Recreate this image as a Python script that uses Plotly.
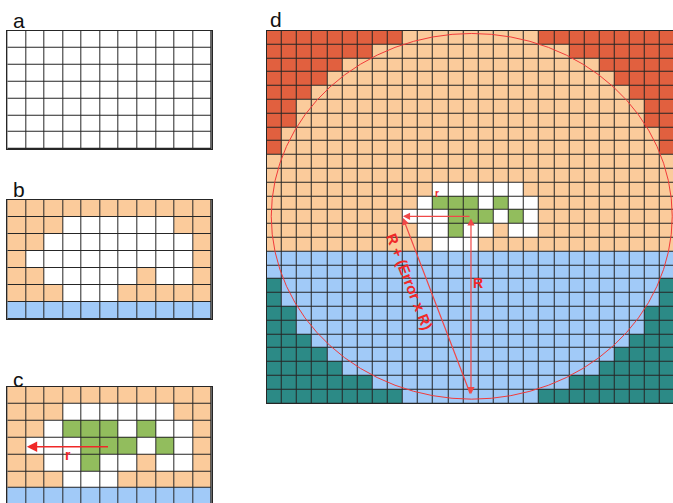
import plotly.graph_objects as go

# ---------------- data ----------------
# cell codes: W white, O light orange, G green, B light blue, R red-orange, T teal
grid_a = ["WWWWWWWWWWW"] * 7

grid_b = [
    "OOOOOOOOOOO",
    "OOOWWWWWWOO",
    "OOWWWWWWWWO",
    "OWWWWWWWWWO",
    "OOWWWWWOWWO",
    "OOOWWWOOOOO",
    "BBBBBBBBBBB",
]

grid_c = [
    "OOOOOOOOOOO",
    "OOOWWWWWWOO",
    "OOWGGGWGWWO",
    "OWWWGGGWGWO",
    "OOWWGWWOWWO",
    "OOOWWWOOOOO",
    "BBBBBBBBBBB",
]

grid_d = [
    "RRRRRRRRROOOOOOOOORRRRRRRRR",
    "RRRRRRROOOOOOOOOOOOORRRRRRR",
    "RRRRROOOOOOOOOOOOOOOOORRRRR",
    "RRRROOOOOOOOOOOOOOOOOOORRRR",
    "RRROOOOOOOOOOOOOOOOOOOOORRR",
    "RROOOOOOOOOOOOOOOOOOOOOOORR",
    "RROOOOOOOOOOOOOOOOOOOOOOORR",
    "ROOOOOOOOOOOOOOOOOOOOOOOOOR",
    "ROOOOOOOOOOOOOOOOOOOOOOOOOR",
    "OOOOOOOOOOOOOOOOOOOOOOOOOOO",
    "OOOOOOOOOOOOOOOOOOOOOOOOOOO",
    "OOOOOOOOOOOWWWWWWOOOOOOOOOO",
    "OOOOOOOOOOWGGGWGWWOOOOOOOOO",
    "OOOOOOOOOWWWGGGWGWOOOOOOOOO",
    "OOOOOOOOOOWWGWWOWWOOOOOOOOO",
    "OOOOOOOOOOOWWWOOOOOOOOOOOOO",
    "BBBBBBBBBBBBBBBBBBBBBBBBBBB",
    "BBBBBBBBBBBBBBBBBBBBBBBBBBB",
    "TBBBBBBBBBBBBBBBBBBBBBBBBBT",
    "TBBBBBBBBBBBBBBBBBBBBBBBBBT",
    "TTBBBBBBBBBBBBBBBBBBBBBBBTT",
    "TTBBBBBBBBBBBBBBBBBBBBBBBTT",
    "TTTBBBBBBBBBBBBBBBBBBBBBTTT",
    "TTTTBBBBBBBBBBBBBBBBBBBTTTT",
    "TTTTTBBBBBBBBBBBBBBBBBTTTTT",
    "TTTTTTTBBBBBBBBBBBBBTTTTTTT",
    "TTTTTTTTTBBBBBBBBBTTTTTTTTT",
]

codes = ["W", "O", "G", "B", "R", "T"]
code_colors = ["#FFFFFF", "#FBCB9B", "#92BD5D", "#A1CAF8", "#E1603F", "#2C8A86"]

panel_letters = ["a", "b", "c", "d"]

# circle (cell units, centre-based) and arrows
circle_center = (13.05, 12.95)
circle_radius = 13.25
arrow_r_c = {"from": (5.0, 3.05), "to": (0.55, 3.05)}
arrow_h_d = {"from": (13.0, 12.95), "to": (8.5, 12.95)}
arrow_v_d = {"from": (13.0, 25.95), "to": (13.0, 13.1)}
arrow_diag_d = {"from": (12.98, 25.9), "to": (8.5, 13.05)}

# ---------------- figure ----------------
W, H = 673, 503
def px_x(p):
    return p / W
def px_y(p):
    return 1 - p / H

LINE = "#262626"
RED = "#F02828"

n = len(codes)
colorscale = []
for k, c in enumerate(code_colors):
    colorscale.append([k / n, c])
    colorscale.append([(k + 1) / n, c])

def to_z(grid):
    return [[codes.index(ch) for ch in row] for row in grid]

fig = go.Figure()

panels = [
    (grid_a, (7.3, 211.7), (30.7, 149.0), None, None),
    (grid_b, (7.3, 211.7), (200.0, 319.0), None, None),
    (grid_c, (7.3, 211.7), (386.7, 503.0), None, (6.38, -0.5)),
    (grid_d, (266.7, 673.0), (30.7, 403.3), (-0.5, 26.35), None),
]

for i, (grid, xd, yd, xr, yr) in enumerate(panels):
    idx = "" if i == 0 else str(i + 1)
    ncols = len(grid[0])
    nrows = len(grid)
    fig.add_trace(go.Heatmap(
        z=to_z(grid), x=list(range(ncols)), y=list(range(nrows)),
        colorscale=colorscale, zmin=-0.5, zmax=n - 0.5, showscale=False,
        xgap=1, ygap=1, hoverinfo="skip",
        xaxis="x" + idx, yaxis="y" + idx,
    ))
    axcommon = dict(showticklabels=False, ticks="", showgrid=False, zeroline=False,
                    showline=True, mirror=True, linecolor=LINE, linewidth=1, fixedrange=True)
    fig.update_layout(**{
        "xaxis" + idx: dict(domain=[px_x(xd[0]), px_x(xd[1])],
                            range=list(xr) if xr else [-0.5, ncols - 0.5],
                            anchor="y" + idx, **axcommon),
        "yaxis" + idx: dict(domain=[px_y(yd[1]), px_y(yd[0])],
                            range=list(yr) if yr else [nrows - 0.5, -0.5],
                            anchor="x" + idx, **axcommon),
    })

cx, cy = circle_center
fig.add_shape(type="circle", xref="x4", yref="y4",
              x0=cx - circle_radius, x1=cx + circle_radius,
              y0=cy - circle_radius, y1=cy + circle_radius,
              line=dict(color="#F03A3A", width=1))

def arrow(ax_idx, spec, side="end", width=1, size=1.0, color=RED):
    (x0, y0), (x1, y1) = spec["from"], spec["to"]
    fig.add_annotation(x=x1, y=y1, ax=x0, ay=y0,
                       xref="x" + ax_idx, yref="y" + ax_idx,
                       axref="x" + ax_idx, ayref="y" + ax_idx,
                       showarrow=True, arrowhead=2, arrowside=side,
                       arrowwidth=width, arrowsize=size, arrowcolor=color, text="")

arrow("3", arrow_r_c, width=1.6, size=1.3)
arrow("4", arrow_h_d, width=1.2, size=1.2, color="#F04848")
arrow("4", arrow_v_d, side="end+start", width=1.2, size=1.2, color="#F04848")
arrow("4", arrow_diag_d, width=1.2, size=1.2, color="#F04848")

font_lbl = dict(family="Liberation Sans, Arial, sans-serif", color=RED)
fig.add_annotation(x=2.78, y=3.55, xref="x3", yref="y3", text="<b>r</b>",
                   showarrow=False, font=dict(size=14, **font_lbl))
fig.add_annotation(x=10.74, y=11.3, xref="x4", yref="y4", text="<b>r</b>",
                   showarrow=False, font=dict(size=10, **font_lbl))
fig.add_annotation(x=13.45, y=17.8, xref="x4", yref="y4", text="<b>R</b>",
                   showarrow=False, font=dict(size=14, **font_lbl))
fig.add_annotation(x=8.95, y=17.65, xref="x4", yref="y4", text="<b>R + (Error x R)</b>",
                   textangle=68.7, showarrow=False, font=dict(size=15, **font_lbl))

letter_pos = [(18.5, 21), (18.5, 189), (18.5, 379), (275.5, 19)]
for letter, (lx, ly) in zip(panel_letters, letter_pos):
    fig.add_annotation(x=px_x(lx), y=px_y(ly), xref="paper", yref="paper",
                       text=letter, showarrow=False, xanchor="center", yanchor="middle",
                       font=dict(family="Liberation Sans, Arial, sans-serif", size=21, color="#111111"))

fig.update_layout(width=W, height=H, margin=dict(l=0, r=0, t=0, b=0),
                  paper_bgcolor="white", plot_bgcolor=LINE, showlegend=False)

fig.write_html("out.html", config={"displayModeBar": False},
               post_script="document.body.style.margin='0px';document.body.style.overflow='hidden';")
